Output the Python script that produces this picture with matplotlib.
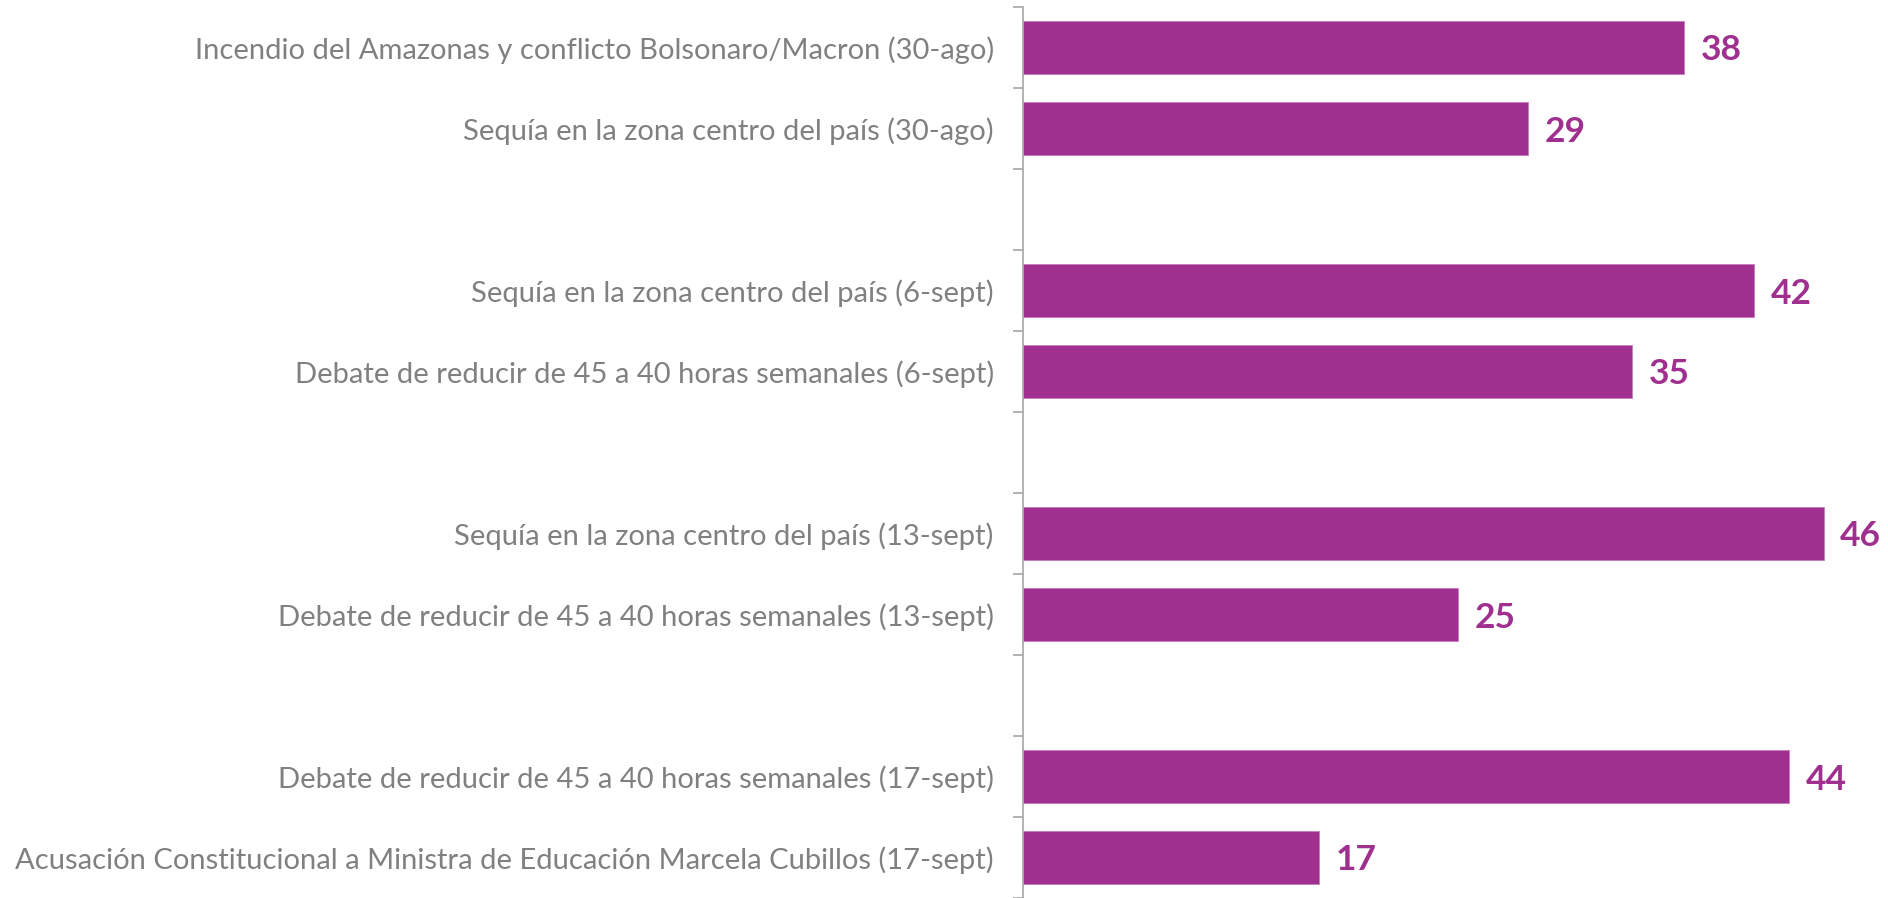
import matplotlib
matplotlib.use("Agg")
import matplotlib.pyplot as plt
import numpy as np

# Temas más comentados por semana
labels = [
    "Incendio del Amazonas y conflicto Bolsonaro/Macron (30-ago)",
    "Sequía en la zona centro del país (30-ago)",
    "Sequía en la zona centro del país (6-sept)",
    "Debate de reducir de 45 a 40 horas semanales (6-sept)",
    "Sequía en la zona centro del país (13-sept)",
    "Debate de reducir de 45 a 40 horas semanales (13-sept)",
    "Debate de reducir de 45 a 40 horas semanales (17-sept)",
    "Acusación Constitucional a Ministra de Educación Marcela Cubillos (17-sept)",
]
values = [38, 29, 42, 35, 46, 25, 44, 17]
group_size = 2

bar_color = "#A0308F"
text_gray = "#808080"
axis_gray = "#A6A6A6"

# two bars per week, with an empty slot between weeks
pos = np.array([i + i // group_size for i in range(len(values))])
n_slots = pos[-1] + 1

fig = plt.figure(figsize=(18.88, 8.98), dpi=100)
ax = fig.add_axes([1023 / 1888, 0.0, 1 - 1023 / 1888, 1 - 7 / 898])

ax.barh(pos, values, height=0.66, color=bar_color, edgecolor="#C77DBB", linewidth=0.6)

for p, v in zip(pos, values):
    ax.annotate(str(v), (v, p), xytext=(12, 0), textcoords="offset points",
                va="center_baseline", ha="left", color=bar_color, fontsize=25.5,
                fontweight="bold", family="Lato")

ax.set_xlim(0, 49.7)
ax.set_ylim(n_slots - 0.5, -0.5)

ax.set_yticks(pos)
ax.set_yticklabels(labels, fontsize=21, color=text_gray, family="Lato",
                   fontweight="normal")
for t in ax.get_yticklabels():
    t.set_verticalalignment("center_baseline")
ax.tick_params(axis="y", which="major", length=0, pad=21)
ax.set_yticks(np.arange(-0.5, n_slots + 0.5, 1), minor=True)
ax.tick_params(axis="y", which="minor", length=7.5, width=1.2, color=axis_gray,
               direction="out")

ax.set_xticks([])
for side in ["top", "right", "bottom"]:
    ax.spines[side].set_visible(False)
ax.spines["left"].set_color(axis_gray)
ax.spines["left"].set_linewidth(1.2)

fig.savefig("out.png", dpi=100)
